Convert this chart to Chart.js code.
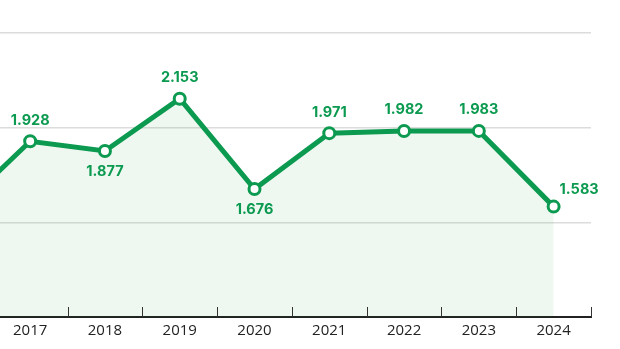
<!DOCTYPE html>
<html>
<head>
<meta charset="utf-8">
<script src="https://cdn.jsdelivr.net/npm/chart.js@4.4.0/dist/chart.umd.min.js"></script>
<style>
  html, body { margin: 0; padding: 0; background: #fff; overflow: hidden; }
  #wrap { position: relative; width: 620px; height: 349px; overflow: hidden; }
  /* the picture is a crop of a wider chart, so the canvas hangs off the left edge */
  #chart { position: absolute; left: -98px; top: 0; }
</style>
</head>
<body>
<div id="wrap"><canvas id="chart" width="720" height="349"></canvas></div>
<script>
// years on the x axis (2016 is only partly visible at the left edge)
const years = ['2016', '2017', '2018', '2019', '2020', '2021', '2022', '2023', '2024'];
const values = [1.55, 1.928, 1.877, 2.153, 1.676, 1.971, 1.982, 1.983, 1.583];
const yTicks = [1.0, 1.5, 2.0, 2.5];

const green = '#0b9a50';

// number labels next to each point: below for dips, right for the last one
const valueLabels = {
    id: 'valueLabels',
    afterDatasetsDraw(chart) {
        const ctx = chart.ctx;
        const meta = chart.getDatasetMeta(0);
        ctx.save();
        ctx.font = 'bold 14.5px Inter, "Noto Sans", sans-serif';
        ctx.fillStyle = green;
        ctx.textBaseline = 'middle';
        meta.data.forEach((pt, i) => {
            const v = values[i];
            const txt = v.toFixed(3);
            const prev = values[i - 1], next = values[i + 1];
            if (i === values.length - 1) {
                ctx.textAlign = 'left';
                ctx.fillText(txt, pt.x + 6, pt.y - 17);
            } else if (prev !== undefined && v < prev && v < next) {
                ctx.textAlign = 'center';
                ctx.fillText(txt, pt.x, pt.y + 21);
            } else {
                ctx.textAlign = 'center';
                ctx.fillText(txt, pt.x, pt.y - 21);
            }
        });
        ctx.restore();
    }
};

// little tick marks that stand up from the x axis between the years
const upTicks = {
    id: 'upTicks',
    afterDatasetsDraw(chart) {
        const ctx = chart.ctx;
        const x = chart.scales.x;
        const bottom = chart.chartArea.bottom;
        const half = (x.getPixelForValue(1) - x.getPixelForValue(0)) / 2;
        ctx.save();
        ctx.strokeStyle = '#333';
        ctx.lineWidth = 1;
        for (let i = 0; i < years.length; i++) {
            const px = Math.round(x.getPixelForValue(i) + half) + 0.5;
            ctx.beginPath();
            ctx.moveTo(px, bottom - 10);
            ctx.lineTo(px, bottom);
            ctx.stroke();
        }
        ctx.restore();
    }
};

new Chart(document.getElementById('chart'), {
    type: 'line',
    data: {
        labels: years,
        datasets: [{
            data: values,
            borderColor: green,
            borderWidth: 5,
            backgroundColor: 'rgba(20, 150, 60, 0.07)',
            fill: 'start',
            tension: 0,
            pointRadius: 5.5,
            pointBorderWidth: 3,
            pointBorderColor: green,
            pointBackgroundColor: '#fff',
            clip: false
        }]
    },
    options: {
        responsive: false,
        animation: false,
        layout: { padding: { left: 16, right: 31, top: 33, bottom: 4 } },
        plugins: { legend: { display: false }, tooltip: { enabled: false } },
        scales: {
            x: {
                offset: true,
                grid: { display: false, drawTicks: false },
                border: { display: true, color: '#222', width: 2 },
                ticks: {
                    color: '#222',
                    padding: 5,
                    font: { family: '"Open Sans", sans-serif', size: 15 }
                }
            },
            y: {
                min: yTicks[0],
                max: yTicks[yTicks.length - 1],
                afterBuildTicks(scale) { scale.ticks = yTicks.map(v => ({ value: v })); },
                ticks: { display: false },
                border: { display: false },
                grid: { color: '#dcdcdc', lineWidth: 1.5, drawTicks: false }
            }
        }
    },
    plugins: [upTicks, valueLabels]
});
</script>
</body>
</html>
